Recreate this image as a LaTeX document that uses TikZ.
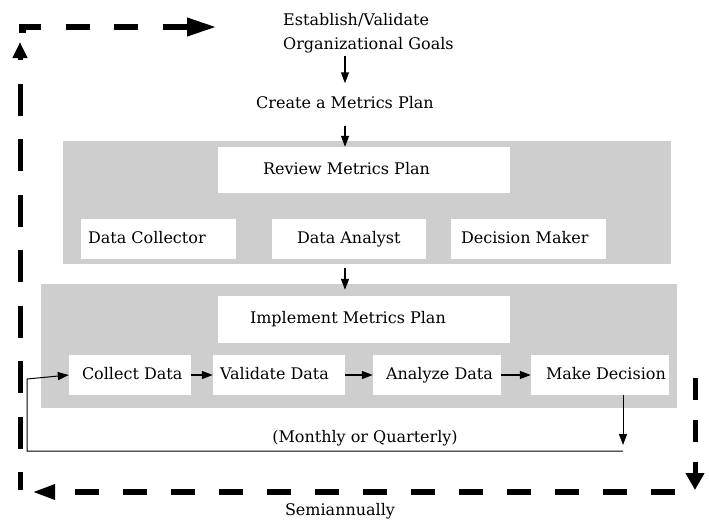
\documentclass[tikz,border=0pt]{standalone}
\usepackage{fontspec}
\setmainfont{DejaVu Serif}
\usetikzlibrary{arrows.meta}
\definecolor{panel}{RGB}{206,206,206}
\newcommand{\padtxt}[3]{\makebox[#1][l]{\hspace*{#2}#3}}
\begin{document}
\begin{tikzpicture}[x=1pt,y=-1pt,
  font=\fontsize{16}{24}\selectfont,
  txt/.style={inner sep=0pt, text height=12pt, text depth=4pt},
  panelbox/.style={fill=panel, inner sep=0pt},
  wbox/.style={fill=white, inner sep=0pt, text height=12pt, text depth=4pt},
  conn/.style={line width=1.3pt, -{Triangle[length=11pt,width=8pt]}},
  loopline/.style={line width=1pt},
  dashv/.style={line width=5pt},
  dashh/.style={line width=6.5pt},
]
\useasboundingbox (0,0) rectangle (709,523);

% panels
\node[panelbox, minimum width=608pt, minimum height=123pt] (pA) at (367,202.5) {};
\node[panelbox, minimum width=636pt, minimum height=124pt] (pB) at (359,346) {};

% top texts
\node[txt, align=left, anchor=north west, text height=, text depth=] (goals) at (283,13.5)
  {Establish/Validate\\Organizational Goals};
\node[txt, inner ysep=17pt] (create) at (345,104.5) {Create a Metrics Plan};

% review panel boxes
\node[wbox, minimum height=46pt] (review) at (364,170) {\padtxt{292pt}{45pt}{Review Metrics Plan}};
\node[wbox, minimum height=40pt] (dc) at (158.5,239) {\padtxt{155pt}{7pt}{Data Collector}};
\node[wbox, minimum height=40pt] (da) at (349,239) {\padtxt{154pt}{25pt}{Data Analyst}};
\node[wbox, minimum height=40pt] (dm) at (528.5,239) {\padtxt{155pt}{10pt}{Decision Maker}};

% implement panel boxes
\node[wbox, minimum height=47pt] (impl) at (364,319.5) {\padtxt{292pt}{32pt}{Implement Metrics Plan}};
\node[wbox, minimum height=40pt] (cd) at (130,375) {\padtxt{122pt}{13pt}{Collect Data}};
\node[wbox, minimum height=40pt] (vd) at (279,375) {\padtxt{132pt}{7pt}{Validate Data}};
\node[wbox, minimum height=40pt] (ad) at (437,375) {\padtxt{128pt}{13pt}{Analyze Data}};
\node[wbox, minimum height=40pt] (md) at (600,375) {\padtxt{138pt}{15pt}{Make Decision}};

% labels
\node[txt] (monthly) at (365,438) {(Monthly or Quarterly)};
\node[txt] (semi) at (340,511) {Semiannually};

% vertical flow arrows
\draw[conn, shorten <=2pt, shorten >=-4pt] (create |- goals.south) -- (create.north);
\draw[conn, shorten <=-4pt] (create.south) -- (create |- review.north);
\draw[conn, shorten <=4pt, shorten >=6pt] (create |- pA.south) -- (create |- impl.north);

% row arrows
\draw[conn] (cd) -- (vd);
\draw[conn] (vd) -- (ad);
\draw[conn] (ad) -- (md);

% monthly loop
\coordinate (loopR) at (623,451);
\coordinate (loopL) at (27,451);
\draw[loopline, -{Triangle[length=11pt,width=8pt]}] (md.south -| loopR) -- ([yshift=6pt]loopR);
\draw[loopline, -{Triangle[length=11pt,width=8pt]}] (loopR) -- (loopL) -- ++(0,-72) -- (cd.west);

% semiannual dashed loop
\coordinate (lvB) at (20,490);
\coordinate (lvT) at (20,42);
\coordinate (thS) at (22.5,32.5);
\coordinate (thC) at (22.5,27);
\coordinate (thE) at (217,27);
\coordinate (rvT) at (695,378);
\coordinate (rvB) at (695,490);
\coordinate (bhR) at (675,492);
\coordinate (bhL) at (32,492);

\draw[dashv, dash pattern=on 32pt off 23.5pt, dash phase=14pt,
  -{Triangle[length=16pt,width=14pt]}] (lvB) -- (lvT);
\draw[dashh, dash pattern=on 24pt off 24.5pt,
  -{Triangle[length=30pt,width=17pt]}] (thS) -- (thC) -- (thE);
\draw[dashv, dash pattern=on 22pt off 20pt,
  -{Triangle[length=17pt,width=18pt]}] (rvT) -- (rvB);
\draw[dashh, dash pattern=on 24pt off 24pt,
  -{Triangle[length=23pt,width=14pt]}] (bhR) -- (bhL);
\end{tikzpicture}
\end{document}
